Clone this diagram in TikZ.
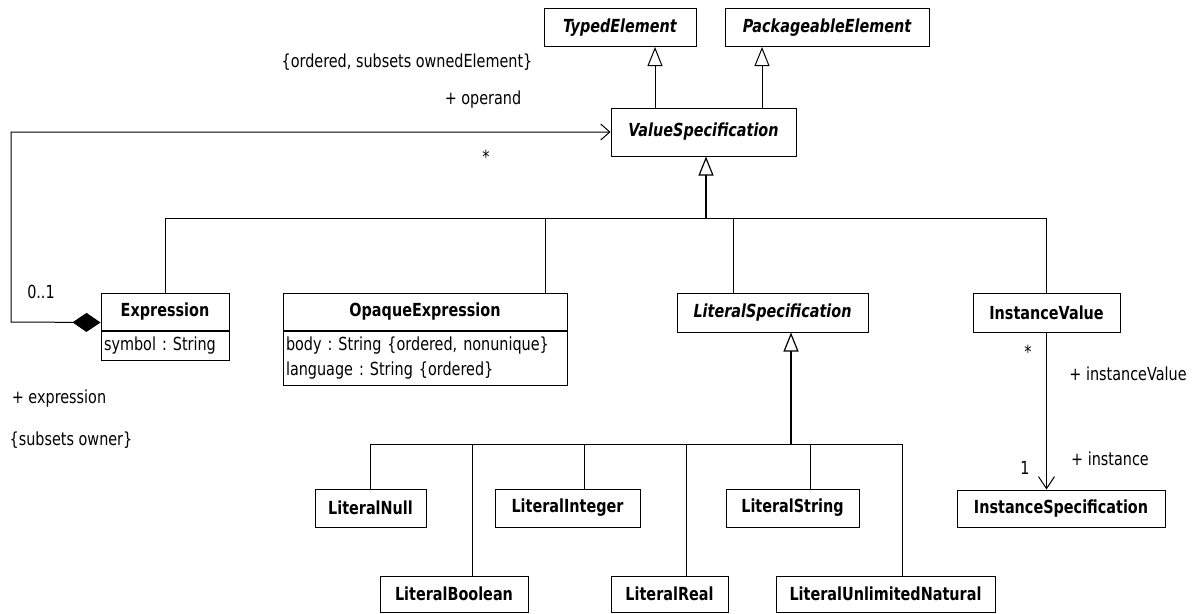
\documentclass[tikz,border=0pt]{standalone}
\usepackage{fontspec}
\setmainfont{DejaVu Sans}[FakeStretch=0.8]
\usepackage{tikz}
\usetikzlibrary{arrows.meta}
\usetikzlibrary{calc}

\tikzset{
	umlclass/.style={draw, line width=1pt, fill=white, font=\bfseries, inner sep=0pt, minimum height=38pt},
	abstractclass/.style={umlclass, font=\bfseries\itshape},
	umlattr/.style={draw, line width=1pt, fill=white, anchor=north, inner xsep=3pt, inner ysep=2pt, align=left},
	gen/.style={line width=1pt, -{Triangle[length=19pt, width=15pt, fill=white]}},
	trunk/.style={line width=2pt, -{Triangle[length=19pt, width=15pt, fill=white, line width=1.2pt]}},
	comp/.style={line width=1pt, {Diamond[length=28pt, width=19pt, fill=black]}-{Straight Barb[length=9pt, width=16pt]}},
	assoc/.style={line width=1pt, -{Straight Barb[length=12pt, width=16pt]}},
	lbl/.style={inner sep=0pt}
}

\begin{document}
\frenchspacing
\fontsize{18}{25}\selectfont
\begin{tikzpicture}[x=1pt, y=-1pt, line width=1pt]
			\useasboundingbox (0,0) rectangle (1193,613);
			
			\node[abstractclass, minimum width=152pt] (typed) at (620,27.5) {TypedElement};
			\node[abstractclass, minimum width=204pt] (pack) at (827,27.5) {PackageableElement};
			\node[abstractclass, minimum width=185pt, minimum height=48pt] (valspec) at (703.5,132) {ValueSpecification};
			
			\node[umlclass, minimum width=128pt, minimum height=37pt] (exprname) at (165,311.5) {Expression};
			\node[umlattr, text width=122pt, minimum height=29pt] (exprattr) at (exprname.south) {symbol : String};
			\node[umlclass, minimum width=284pt, minimum height=37pt] (opaqname) at (425,311.5) {OpaqueExpression};
			\node[umlattr, text width=278pt, minimum height=54pt] (opaqattr) at (opaqname.south) {body : String \{ordered, nonunique\}\\language : String \{ordered\}};
			\node[abstractclass, minimum width=191pt, minimum height=39pt] (litspec) at (772.5,312.5) {LiteralSpecification};
			\node[umlclass, minimum width=147pt, minimum height=39pt] (instval) at (1046.5,312.5) {InstanceValue};
			\node[umlclass, minimum width=208pt, minimum height=37pt] (instspec) at (1061,508.5) {InstanceSpecification};
			
			\node[umlclass, minimum width=111pt] (litnull) at (370.5,508) {LiteralNull};
			\node[umlclass, minimum width=145pt] (litint) at (567.5,508) {LiteralInteger};
			\node[umlclass, minimum width=133pt] (litstr) at (792.5,508) {LiteralString};
			\node[umlclass, minimum width=148pt, minimum height=36pt] (litbool) at (454,594) {LiteralBoolean};
			\node[umlclass, minimum width=117pt, minimum height=36pt] (litreal) at (669.5,594) {LiteralReal};
			\node[umlclass, minimum width=219pt, minimum height=36pt] (litunl) at (885.5,594) {LiteralUnlimitedNatural};
			
			\coordinate (vsbus) at (706,218);
			\coordinate (lsbus) at (791,444);
			\coordinate (opbend) at (11,322);
			
			\draw[gen] ([xshift=-48.5pt]valspec.north) -- ([xshift=35pt]typed.south);
			\draw[gen] ([xshift=58.5pt]valspec.north) -- ([xshift=-65pt]pack.south);
			
			\draw (exprname.north) |- (vsbus);
			\draw ([xshift=120pt]opaqname.north) |- (vsbus);
			\draw ([xshift=-39.5pt]litspec.north) |- (vsbus);
			\draw (instval.north) |- (vsbus);
			\draw[trunk] (vsbus) -- (vsbus |- valspec.south);
			
			\draw (litnull.north) |- (lsbus);
			\draw ([xshift=18pt]litbool.north) |- (lsbus);
			\draw ([xshift=16.5pt]litint.north) |- (lsbus);
			\draw ([xshift=16.5pt]litreal.north) |- (lsbus);
			\draw ([xshift=17.5pt]litstr.north) |- (lsbus);
			\draw ([xshift=16.5pt]litunl.north) |- (lsbus);
			\draw[trunk] (lsbus) -- (lsbus |- litspec.south);
			
			\draw[comp] ([yshift=8pt]exprname.south west) -- (opbend) |- (valspec.west);
			\draw[assoc] (instval.south) -- (instval.south |- instspec.north);
			
			\node[lbl] (ownedlbl) at (407,62) {\{ordered, subsets ownedElement\}};
			\node[lbl] (operandlbl) at (483,100) {+ operand};
			\node[lbl] (operandmult) at (486,157) {*};
			\node[lbl] (exprmult) at (41,292) {0..1};
			\node[lbl] (exprlbl) at (59,399) {+ expression};
			\node[lbl] (ownerlbl) at (71,440) {\{subsets owner\}};
			\node[lbl] (ivmult) at (1028,352) {*};
			\node[lbl] (ivlbl) at (1128,374) {+ instanceValue};
			\node[lbl] (ismult) at (1025,468) {1};
			\node[lbl] (islbl) at (1110,459) {+ instance};
			
			\end{tikzpicture}
\end{document}
